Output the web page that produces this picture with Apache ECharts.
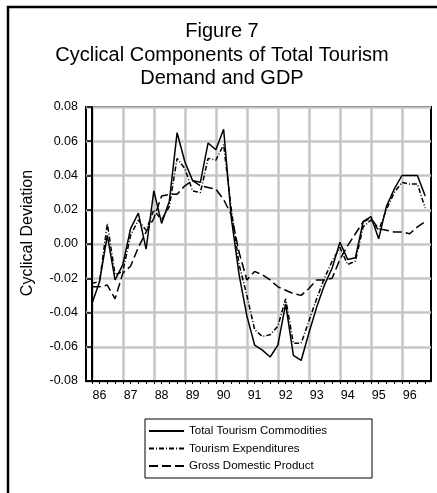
<!DOCTYPE html>
<html>
<head>
<meta charset="utf-8">
<script src="https://cdn.jsdelivr.net/npm/echarts@6/dist/echarts.min.js"></script>
<style>
  html, body { margin: 0; padding: 0; background: #fff; }
  #chart { width: 437px; height: 493px; }
</style>
</head>
<body>
<div id="chart"></div>
<script>
// quarterly observations 1986Q1 .. 1996Q4
const yearLabels = ['86', '87', '88', '89', '90', '91', '92', '93', '94', '95', '96'];
const quarters = [];
yearLabels.forEach(y => ['Q1', 'Q2', 'Q3', 'Q4'].forEach(q => quarters.push('19' + y + q)));

const totalCommodities = [
  -0.035, -0.022, 0.005, -0.021, -0.012, 0.009, 0.018, -0.003, 0.031, 0.012, 0.025,
  0.065, 0.048, 0.037, 0.036, 0.059, 0.055, 0.067, 0.015, -0.018, -0.042, -0.059,
  -0.062, -0.066, -0.059, -0.035, -0.065, -0.068, -0.052, -0.037, -0.024, -0.014, 0.001,
  -0.009, -0.008, 0.013, 0.016, 0.003, 0.022, 0.032, 0.040, 0.040, 0.040, 0.028
];
const tourismExpenditures = [
  -0.023, -0.022, 0.012, -0.018, -0.016, 0.005, 0.014, 0.008, 0.020, 0.014, 0.022,
  0.050, 0.044, 0.031, 0.030, 0.050, 0.049, 0.058, 0.020, -0.012, -0.030, -0.050,
  -0.054, -0.053, -0.048, -0.032, -0.058, -0.058, -0.045, -0.032, -0.020, -0.010, -0.002,
  -0.012, -0.010, 0.010, 0.014, 0.008, 0.020, 0.030, 0.036, 0.035, 0.035, 0.021
];
const gdp = [
  -0.025, -0.025, -0.024, -0.032, -0.017, -0.013, -0.002, 0.007, 0.015, 0.028, 0.029,
  0.029, 0.034, 0.037, 0.034, 0.033, 0.032, 0.026, 0.017, -0.005, -0.021, -0.016,
  -0.018, -0.021, -0.025, -0.027, -0.029, -0.030, -0.026, -0.021, -0.021, -0.020, -0.009,
  -0.001, 0.006, 0.013, 0.015, 0.009, 0.008, 0.007, 0.007, 0.006, 0.010, 0.013
];

const FONT = "'Liberation Sans', Arial, sans-serif";

const quarterIdx = quarters.map((q, i) => i);
const yearStartIdx = quarterIdx.filter(i => i % 4 === 0);
const yearLabelIdx = quarterIdx.filter(i => i % 4 === 1);

const toPairs = arr => arr.map((v, i) => [i, v]);

const chart = echarts.init(document.getElementById('chart'), null, { renderer: 'canvas' });

const option = {
  animation: false,
  backgroundColor: '#fff',
  textStyle: { fontFamily: FONT, color: '#000' },
  graphic: [
    {
      type: 'rect',
      shape: { x: 8, y: 7, width: 440, height: 500 },
      style: { fill: 'none', stroke: '#000', lineWidth: 2.5 },
      silent: true
    },
    {
      type: 'text',
      x: 222, y: 20,
      style: {
        text: 'Figure 7\nCyclical Components of Total Tourism\nDemand and GDP',
        font: '20px ' + FONT,
        fill: '#000',
        textAlign: 'center',
        lineHeight: 23.5
      }
    },
    {
      type: 'text',
      x: 28, y: 233,
      rotation: Math.PI / 2,
      style: {
        text: 'Cyclical Deviation',
        font: '16px ' + FONT,
        fill: '#000',
        textAlign: 'center',
        textVerticalAlign: 'middle'
      }
    }
  ],
  grid: {
    left: 86, right: 6, top: 107, bottom: 112,
    show: true,
    borderColor: '#000',
    borderWidth: 2,
    containLabel: false
  },
  legend: {
    orient: 'vertical',
    left: 145, top: 419,
    padding: [6, 45, 6, 3],
    borderColor: '#000',
    borderWidth: 1,
    itemWidth: 35,
    itemHeight: 12,
    itemGap: 5.5,
    itemStyle: { opacity: 0 },
    textStyle: { fontFamily: FONT, fontSize: 11.5, color: '#000' },
    data: ['Total Tourism Commodities', 'Tourism Expenditures', 'Gross Domestic Product']
  },
  xAxis: [{
    type: 'value',
    min: -0.75,
    max: 43.75,
    axisLine: { show: true, onZero: false, lineStyle: { color: '#000', width: 2 } },
    axisTick: { show: true, customValues: quarterIdx, length: 3, lineStyle: { color: '#000', width: 1 } },
    splitLine: { show: false },
    axisLabel: {
      customValues: yearLabelIdx,
      formatter: v => yearLabels[Math.round((v - 1) / 4)],
      fontSize: 12.5,
      margin: 8,
      color: '#000',
      fontFamily: FONT
    }
  }, {
    type: 'value',
    position: 'bottom',
    min: -0.75,
    max: 43.75,
    axisLine: { show: false },
    axisTick: { show: false, customValues: yearStartIdx },
    axisLabel: { show: false },
    splitLine: { show: true, lineStyle: { color: '#c6c6c6', width: 2.5 } }
  }],
  yAxis: {
    type: 'value',
    min: -0.08,
    max: 0.08,
    interval: 0.02,
    axisLine: { show: true, lineStyle: { color: '#000', width: 2 } },
    axisTick: { show: true, length: 5, lineStyle: { color: '#000', width: 1.5 } },
    splitLine: { show: true, lineStyle: { color: '#c6c6c6', width: 2.5 } },
    axisLabel: {
      formatter: v => v.toFixed(2),
      fontSize: 12.5,
      margin: 8,
      color: '#000',
      fontFamily: FONT
    }
  },
  series: [
    {
      name: 'Total Tourism Commodities',
      type: 'line',
      data: toPairs(totalCommodities),
      showSymbol: false,
      symbol: 'none',
      lineStyle: { color: '#000', width: 1.5, type: 'solid' },
      itemStyle: { color: '#000' },
      z: 5
    },
    {
      name: 'Tourism Expenditures',
      type: 'line',
      data: toPairs(tourismExpenditures),
      showSymbol: false,
      symbol: 'none',
      lineStyle: { color: '#000', width: 1.5, type: [5, 2, 1, 2] },
      itemStyle: { color: '#000' },
      z: 4
    },
    {
      name: 'Gross Domestic Product',
      type: 'line',
      data: toPairs(gdp),
      showSymbol: false,
      symbol: 'none',
      lineStyle: { color: '#000', width: 1.5, type: [9, 4] },
      itemStyle: { color: '#000' },
      z: 3
    }
  ]
};

chart.setOption(option);
</script>
</body>
</html>
